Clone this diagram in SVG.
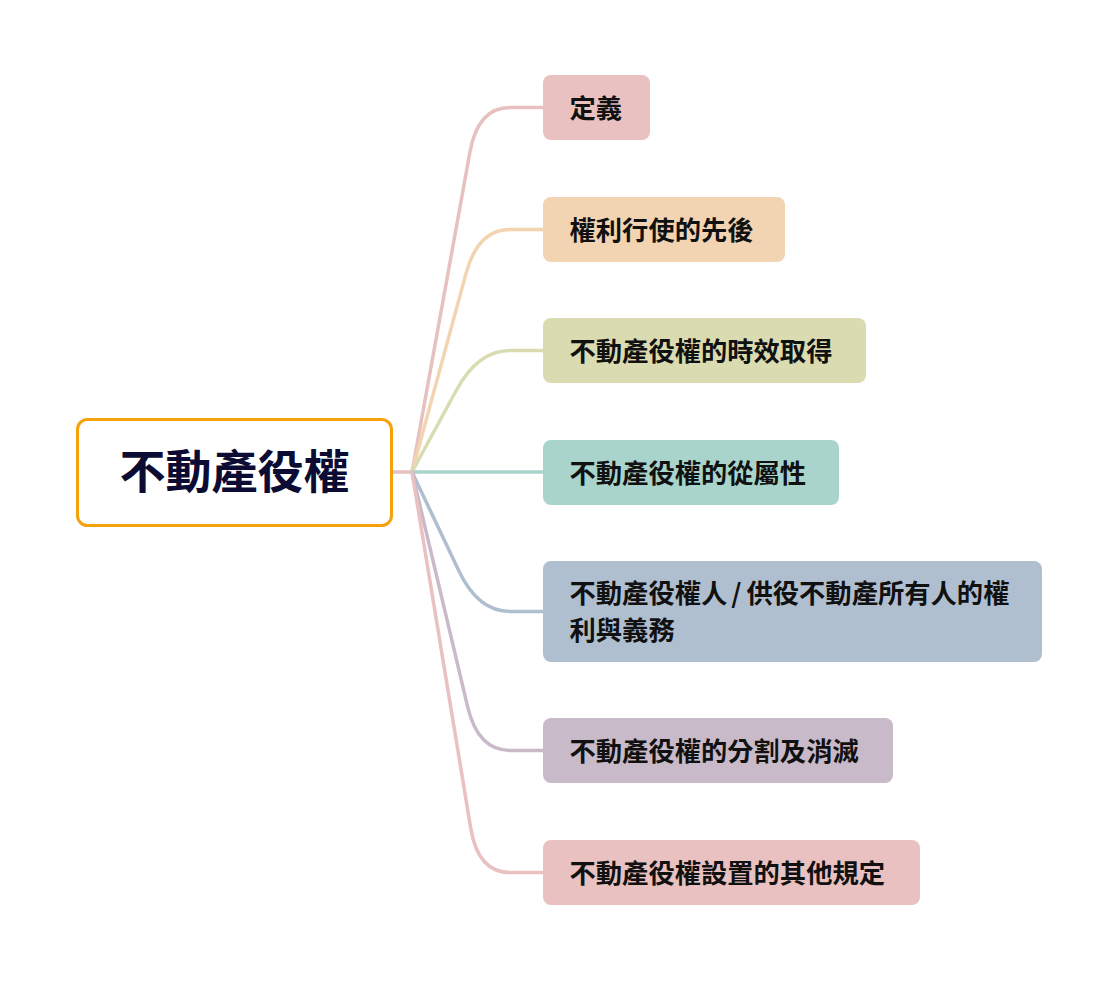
<svg xmlns="http://www.w3.org/2000/svg" width="1117" height="981" viewBox="0 0 1117 981">
<style>
.c{fill:none;stroke-width:3.5;stroke-linecap:round;stroke-linejoin:round}
.t{font-family:"Noto Sans CJK TC","Noto Sans CJK SC",sans-serif;font-size:26.3px;font-weight:700;fill:#111}
.rt{font-family:"Noto Sans CJK TC","Noto Sans CJK SC",sans-serif;font-size:46px;font-weight:700;fill:#0b0b33}
</style>
<rect width="1117" height="981" fill="#fff"/>
<g id="connectors">
<path class="c" d="M393 472 L412 472" stroke="#E8C1C0"/>
<path class="c" d="M412 472 L470 151.8 Q478 107.5 510 107.5 L543 107.5" stroke="#E6C1C0"/>
<path class="c" d="M412 472 L466.2 272.9 Q478 229.5 510 229.5 L543 229.5" stroke="#F2D4B1"/>
<path class="c" d="M412 472 L456.5 390 Q478 350.5 510 350.5 L543 350.5" stroke="#D9DBB0"/>
<path class="c" d="M412 472 L543 472" stroke="#A9D4CB"/>
<path class="c" d="M412 472 L458.8 570.8 Q478 611.5 510 611.5 L543 611.5" stroke="#B0BFCF"/>
<path class="c" d="M412 472 L467.6 706.7 Q478 750.5 510 750.5 L543 750.5" stroke="#C9BACA"/>
<path class="c" d="M412 472 L470.7 828.1 Q478 872.5 510 872.5 L543 872.5" stroke="#E8C1C0"/>
</g>
<g id="root">
<rect x="77.5" y="419.5" width="314" height="106" rx="10" fill="#fff" stroke="#F5A10B" stroke-width="3"/>
<text class="rt" x="234.5" y="488" text-anchor="middle">不動產役權</text>
</g>
<g id="n1">
<rect x="543" y="75" width="107" height="65" rx="8" fill="#E8C1C0"/>
<text class="t" x="569.5" y="118">定義</text>
</g>
<g id="n2">
<rect x="543" y="197" width="242" height="65" rx="8" fill="#F2D4B3"/>
<text class="t" x="569.5" y="240">權利行使的先後</text>
</g>
<g id="n3">
<rect x="543" y="318" width="323" height="65" rx="8" fill="#DADBB0"/>
<text class="t" x="569.5" y="361">不動產役權的時效取得</text>
</g>
<g id="n4">
<rect x="543" y="440" width="296" height="65" rx="8" fill="#A8D4CB"/>
<text class="t" x="569.5" y="483">不動產役權的從屬性</text>
</g>
<g id="n5">
<rect x="543" y="561" width="499" height="101" rx="8" fill="#B0BFCF"/>
<text class="t" x="569.5" y="603">不動產役權人<tspan dx="4">/</tspan><tspan dx="5">供役不動產所有人的權</tspan></text>
<text class="t" x="569.5" y="640">利與義務</text>
</g>
<g id="n6">
<rect x="543" y="718" width="350" height="65" rx="8" fill="#C9BACA"/>
<text class="t" x="569.5" y="761">不動產役權的分割及消滅</text>
</g>
<g id="n7">
<rect x="543" y="840" width="377" height="65" rx="8" fill="#E8C1C0"/>
<text class="t" x="569.5" y="883">不動產役權設置的其他規定</text>
</g>
</svg>
